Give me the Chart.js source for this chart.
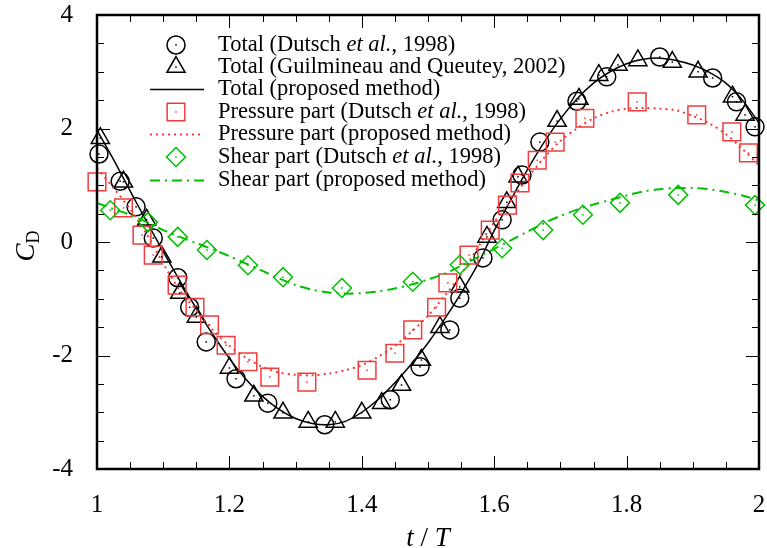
<!DOCTYPE html>
<html><head><meta charset="utf-8">
<script src="https://cdn.jsdelivr.net/npm/chart.js@4/dist/chart.umd.min.js"></script>
<style>html,body{margin:0;padding:0;background:#fff;}canvas{display:block;}</style>
</head><body>
<canvas id="c" width="767" height="548"></canvas>
<script>
// ---- data ----
const lineT = [1.000,1.025,1.050,1.075,1.100,1.125,1.150,1.175,1.200,1.225,1.250,1.275,1.300,1.325,1.350,1.375,1.400,1.425,1.450,1.475,1.500,1.525,1.550,1.575,1.600,1.625,1.650,1.675,1.700,1.725,1.750,1.775,1.800,1.825,1.850,1.875,1.900,1.925,1.950,1.975,2.000];
const totalProposed = [1.97,1.45,0.90,0.36,-0.17,-0.68,-1.17,-1.63,-2.05,-2.42,-2.72,-2.95,-3.11,-3.20,-3.22,-3.16,-3.00,-2.77,-2.48,-2.15,-1.78,-1.36,-0.90,-0.40,0.20,0.74,1.27,1.75,2.17,2.52,2.80,3.00,3.14,3.22,3.24,3.20,3.12,2.99,2.80,2.50,2.10];
const pressureProposed = [1.30,0.95,0.58,0.14,-0.38,-0.85,-1.20,-1.55,-1.83,-2.04,-2.20,-2.30,-2.34,-2.35,-2.32,-2.26,-2.17,-2.02,-1.83,-1.58,-1.30,-0.95,-0.57,-0.10,0.35,0.72,1.12,1.48,1.78,2.00,2.18,2.29,2.35,2.36,2.35,2.32,2.22,2.09,1.90,1.64,1.35];
const shearProposed = [0.69,0.58,0.48,0.35,0.21,0.09,-0.02,-0.13,-0.25,-0.38,-0.51,-0.64,-0.76,-0.84,-0.89,-0.91,-0.90,-0.87,-0.82,-0.75,-0.66,-0.56,-0.42,-0.27,-0.12,0.03,0.18,0.33,0.46,0.57,0.66,0.74,0.82,0.89,0.93,0.95,0.95,0.93,0.88,0.82,0.73];

const dutschTotalT = [1.003,1.035,1.059,1.085,1.122,1.140,1.165,1.210,1.258,1.344,1.443,1.488,1.533,1.548,1.583,1.612,1.642,1.669,1.725,1.770,1.850,1.930,1.966,1.994];
const dutschTotalC = [1.55,1.07,0.62,0.07,-0.63,-1.15,-1.76,-2.41,-2.84,-3.22,-2.78,-2.20,-1.55,-0.99,-0.28,0.39,1.18,1.76,2.48,2.91,3.26,2.89,2.47,2.03];

const guilT = [1.005,1.040,1.075,1.098,1.125,1.150,1.200,1.237,1.281,1.319,1.360,1.400,1.430,1.460,1.490,1.518,1.548,1.589,1.619,1.636,1.695,1.728,1.758,1.787,1.817,1.869,1.908,1.960,1.979];
const guilC = [1.83,1.06,0.39,-0.26,-0.90,-1.32,-2.22,-2.71,-3.01,-3.17,-3.17,-3.01,-2.84,-2.52,-2.08,-1.50,-0.79,0.09,0.70,1.15,2.13,2.52,2.94,3.12,3.20,3.17,3.00,2.56,2.24];

const dutschPressureT = [1.000,1.040,1.068,1.085,1.121,1.148,1.170,1.195,1.228,1.261,1.317,1.408,1.450,1.477,1.513,1.530,1.562,1.594,1.620,1.639,1.665,1.692,1.737,1.816,1.906,1.959,1.984];
const dutschPressureC = [1.06,0.60,0.12,-0.23,-0.76,-1.15,-1.46,-1.82,-2.11,-2.38,-2.47,-2.26,-1.96,-1.55,-1.15,-0.72,-0.23,0.21,0.65,1.04,1.44,1.76,2.18,2.47,2.24,1.94,1.57];

const dutschShearT = [1.020,1.077,1.122,1.166,1.228,1.281,1.370,1.477,1.548,1.612,1.674,1.734,1.790,1.878,1.994];
const dutschShearC = [0.56,0.35,0.09,-0.14,-0.41,-0.62,-0.81,-0.70,-0.40,-0.11,0.21,0.48,0.69,0.83,0.65];

const xTickLabels = ['1','1.2','1.4','1.6','1.8','2'];
const yTickLabels = ['-4','-2','0','2','4'];

const legendLabels = [
  [['Total (Dutsch ',0],['et al.',1],[', 1998)',0]],
  [['Total (Guilmineau and Queutey, 2002)',0]],
  [['Total (proposed method)',0]],
  [['Pressure part (Dutsch ',0],['et al.',1],[', 1998)',0]],
  [['Pressure part (proposed method)',0]],
  [['Shear part (Dutsch ',0],['et al.',1],[', 1998)',0]],
  [['Shear part (proposed method)',0]]
];

// ---- build ----
const pts = (xs, ys) => xs.map((x, i) => ({x, y: ys[i]}));
const RED = '#f03c3c', GREEN = '#00c000', SERIF = '"Liberation Serif", "DejaVu Serif", serif';

const datasets = [
  {data: pts(dutschTotalT, dutschTotalC), showLine:false, pointStyle:'circle', pointRadius:9, pointBorderWidth:1.5, borderColor:'#000', pointBorderColor:'#000', backgroundColor:'rgba(0,0,0,0)', pointBackgroundColor:'rgba(0,0,0,0)', order:7, clip:false, marker:true},
  {data: pts(guilT, guilC), showLine:false, pointStyle:'triangle', pointRadius:10.5, pointBorderWidth:1.5, borderColor:'#000', pointBorderColor:'#000', backgroundColor:'rgba(0,0,0,0)', pointBackgroundColor:'rgba(0,0,0,0)', order:6, clip:false, marker:true},
  {data: pts(lineT, totalProposed), showLine:true, pointRadius:0, borderColor:'#000', borderWidth:1.5, tension:0.3, order:5},
  {data: pts(dutschPressureT, dutschPressureC), showLine:false, pointStyle:'rect', pointRadius:12.5, pointBorderWidth:1.5, borderColor:RED, pointBorderColor:RED, backgroundColor:'rgba(0,0,0,0)', pointBackgroundColor:'rgba(0,0,0,0)', order:4, clip:false, marker:true},
  {data: pts(lineT, pressureProposed), showLine:true, pointRadius:0, borderColor:RED, borderWidth:2, borderDash:[2,4], tension:0.3, order:3},
  {data: pts(dutschShearT, dutschShearC), showLine:false, pointStyle:'rectRot', pointRadius:9.5, pointBorderWidth:1.5, borderColor:GREEN, pointBorderColor:GREEN, backgroundColor:'rgba(0,0,0,0)', pointBackgroundColor:'rgba(0,0,0,0)', order:2, clip:false, marker:true},
  {data: pts(lineT, shearProposed), showLine:true, pointRadius:0, borderColor:GREEN, borderWidth:2, borderDash:[10,5,2,5], tension:0.3, order:1}
];

function drawMarker(ctx, style, r, x, y, color, bw){
  ctx.save();
  ctx.strokeStyle = color; ctx.fillStyle = 'rgba(0,0,0,0)'; ctx.lineWidth = bw;
  if (Chart.helpers && Chart.helpers.drawPoint) {
    Chart.helpers.drawPoint(ctx, {pointStyle: style, radius: r, rotation: 0, borderWidth: bw}, x, y);
  }
  ctx.fillStyle = color;
  ctx.fillRect(x - 0.75, y - 0.75, 1.5, 1.5);
  ctx.restore();
}

function drawRich(ctx, parts, x, y, size){
  let cx = x;
  for (const [txt, it] of parts) {
    ctx.font = (it ? 'italic ' : '') + size + 'px ' + SERIF;
    ctx.fillText(txt, cx, y);
    cx += ctx.measureText(txt).width;
  }
}

const decor = {
  id: 'decor',
  afterDatasetsDraw(chart){
    const {ctx, chartArea:a, scales:{x, y}} = chart;
    ctx.save();
    chart.data.datasets.forEach((ds, i) => {
      if (!ds.marker) return;
      ctx.fillStyle = ds.borderColor;
      chart.getDatasetMeta(i).data.forEach(p => ctx.fillRect(p.x - 0.75, p.y - 0.75, 1.5, 1.5));
    });
    ctx.strokeStyle = '#000'; ctx.lineWidth = 1;
    ctx.beginPath();
    for (let i = 0; i <= 20; i++) {
      const px = Math.round(x.getPixelForValue(1 + i * 0.05)) + 0.5;
      const len = (i % 4 === 0) ? 13 : 7;
      ctx.moveTo(px, a.bottom); ctx.lineTo(px, a.bottom - len);
      ctx.moveTo(px, a.top); ctx.lineTo(px, a.top + len);
    }
    for (let i = 0; i <= 16; i++) {
      const py = Math.round(y.getPixelForValue(-4 + i * 0.5)) + 0.5;
      const len = (i % 4 === 0) ? 13 : 7;
      ctx.moveTo(a.left, py); ctx.lineTo(a.left + len, py);
      ctx.moveTo(a.right, py); ctx.lineTo(a.right - len, py);
    }
    ctx.stroke();
    ctx.lineWidth = 2.5;
    ctx.strokeRect(a.left, a.top, a.right - a.left, a.bottom - a.top);

    // legend
    const rows = [45, 67, 89, 112, 134, 157, 180];
    const sx = 176, lx0 = 150, lx1 = 204, tx = 218;
    ctx.textBaseline = 'middle'; ctx.textAlign = 'left';
    chart.data.datasets.forEach((ds, i) => {
      const ry = rows[i];
      if (ds.marker) {
        drawMarker(ctx, ds.pointStyle, ds.pointRadius, sx, ry, ds.borderColor, ds.pointBorderWidth);
      } else {
        ctx.save();
        ctx.strokeStyle = ds.borderColor; ctx.lineWidth = ds.borderWidth;
        ctx.setLineDash(ds.borderDash || []);
        ctx.beginPath(); ctx.moveTo(lx0, ry + 0.5); ctx.lineTo(lx1, ry + 0.5); ctx.stroke();
        ctx.restore();
      }
      ctx.fillStyle = '#000';
      drawRich(ctx, legendLabels[i], tx, ry, 22.5);
    });

    // axis titles
    ctx.fillStyle = '#000';
    ctx.textBaseline = 'alphabetic';
    ctx.font = 'italic 27px ' + SERIF;
    const w1 = ctx.measureText('t').width, w3 = ctx.measureText('T').width;
    ctx.font = '27px ' + SERIF;
    const w2 = ctx.measureText(' / ').width;
    let xx = 428 - (w1 + w2 + w3) / 2;
    const xb = 546;
    ctx.font = 'italic 27px ' + SERIF; ctx.fillText('t', xx, xb); xx += w1;
    ctx.font = '27px ' + SERIF; ctx.fillText(' / ', xx, xb); xx += w2;
    ctx.font = 'italic 27px ' + SERIF; ctx.fillText('T', xx, xb);
    ctx.save();
    ctx.translate(34, 246);
    ctx.rotate(-Math.PI / 2);
    ctx.font = 'italic 27px ' + SERIF;
    const cw = ctx.measureText('C').width;
    ctx.font = '18px ' + SERIF;
    const dw = ctx.measureText('D').width;
    const start = -(cw + dw) / 2;
    ctx.font = 'italic 27px ' + SERIF; ctx.fillText('C', start, 0);
    ctx.font = '18px ' + SERIF; ctx.fillText('D', start + cw, 5);
    ctx.restore();
    ctx.restore();
  }
};

new Chart(document.getElementById('c'), {
  type: 'scatter',
  data: {datasets},
  options: {
    responsive: false, animation: false, devicePixelRatio: 1,
    layout: {autoPadding: false, padding: {left: 0, top: 15, right: 8, bottom: 0}},
    plugins: {legend: {display: false}, tooltip: {enabled: false}},
    scales: {
      x: {
        type: 'linear', min: 1, max: 2,
        afterFit: s => { s.height = 79; s.paddingLeft = 0; s.paddingRight = 0; },
        grid: {display: false}, border: {display: false},
        ticks: {stepSize: 0.2, autoSkip: false, maxRotation: 0, padding: 13, color: '#000',
                font: {family: SERIF, size: 25},
                callback: (v, i) => xTickLabels[i]}
      },
      y: {
        type: 'linear', min: -4, max: 4,
        afterFit: s => { s.width = 97; s.paddingTop = 0; s.paddingBottom = 0; },
        grid: {display: false}, border: {display: false},
        ticks: {stepSize: 2, autoSkip: false, padding: 16, color: '#000',
                font: {family: SERIF, size: 25},
                callback: (v, i) => yTickLabels[i]}
      }
    }
  },
  plugins: [decor]
});
</script>
</body></html>
